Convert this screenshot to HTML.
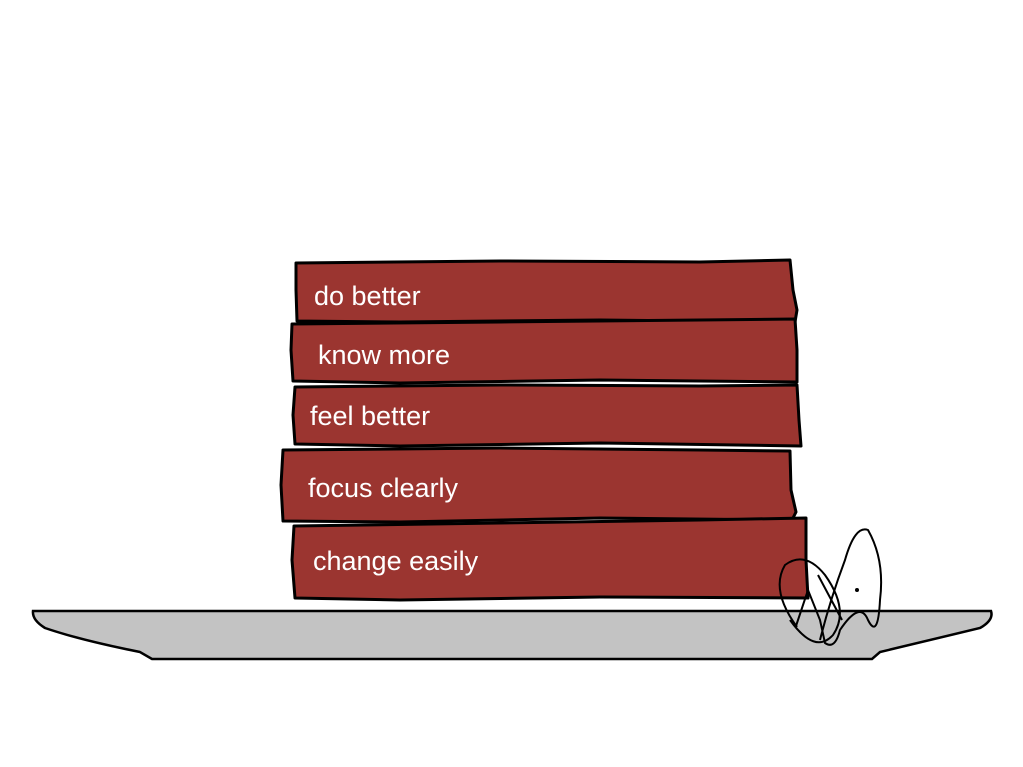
<!DOCTYPE html>
<html><head><style>body{margin:0;background:#fff}svg{display:block}text{font-family:"Liberation Sans",sans-serif;fill:#fff;font-size:27px}</style></head>
<body>
<svg width="1023" height="767" viewBox="0 0 1023 767">
<path d="M33 611 L991 611 Q994 620 980 628 Q930 640 880 652 L872 659 L152 659 L140 652 Q80 640 45 628 Q32 620 33 611 Z" fill="#c3c3c3" stroke="#000" stroke-width="2.5"/>
<g fill="#9b3530" stroke="#000" stroke-width="3" stroke-linejoin="round">
<path d="M296 263 L500 261 L700 262 L790 260 L793 290 L797 310 L795 322 L600 320 L400 322 L297 321 L296 290 Z"/>
<path d="M292 324 L500 322 L700 320 L795 319 L797 350 L797 382 L600 380 L400 383 L293 381 L291 350 Z"/>
<path d="M295 387 L500 385 L700 386 L797 385 L799 420 L801 446 L600 443 L400 446 L295 444 L293 415 Z"/>
<path d="M283 450 L500 448 L700 450 L790 451 L791 490 L796 512 L792 520 L600 518 L400 522 L283 521 L281 485 Z"/>
<path d="M294 526 L500 523 L700 520 L806 518 L806 560 L808 598 L600 597 L400 600 L295 598 L292 560 Z"/>
</g>
<text x="314" y="305">do better</text>
<text x="318" y="364">know more</text>
<text x="310" y="425">feel better</text>
<text x="308" y="497">focus clearly</text>
<text x="313" y="570">change easily</text>
<g fill="none" stroke="#000" stroke-width="2">
<path d="M797 627 Q770 590 785 565 Q805 550 825 575 Q850 610 833 635 Q815 655 790 620"/>
<path d="M796 626 L808 590 L820 620 L825 643 Q835 650 840 630 Q860 600 868 620 Q878 640 880 600 Q885 560 868 530 Q855 525 845 560 Q830 600 820 640"/>
<path d="M818 575 L842 620"/>
</g>
<circle cx="857" cy="590" r="2" fill="#000"/>
</svg>
</body></html>
